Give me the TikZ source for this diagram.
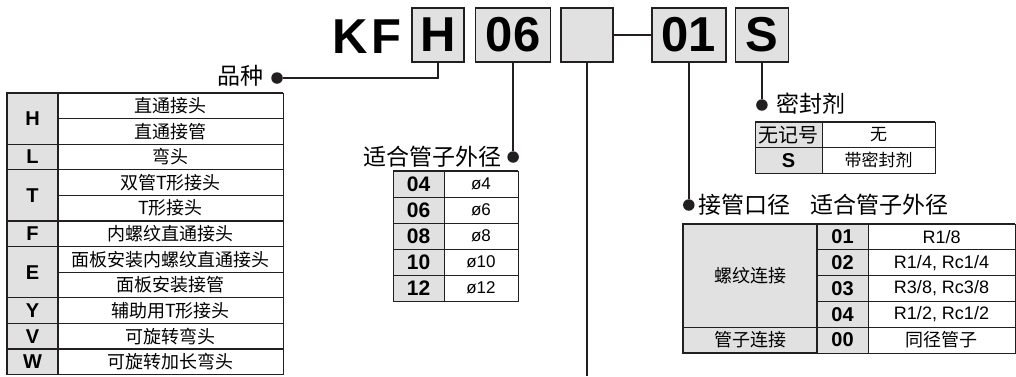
\documentclass[tikz,border=0pt]{standalone}
\usepackage{fontspec}
\setmainfont{Liberation Sans}
\newfontfamily\cjk{Noto Sans CJK SC}
\usetikzlibrary{positioning}
\definecolor{keygray}{HTML}{E1E1E1}
\definecolor{rulegray}{HTML}{231F20}

\begin{document}
\begin{tikzpicture}[x=1pt, y=-1pt, draw=rulegray,
  codebox/.style={draw, fill=keygray, line width=1.6pt, minimum height=54pt, inner sep=0pt, font=\fontsize{49}{49}\selectfont\bfseries},
  bullet/.style={circle, fill=rulegray, inner sep=0pt, minimum size=11.5pt},
  title/.style={inner sep=0pt, font=\fontsize{23}{23}\selectfont\cjk},
  key/.style={inner sep=0pt, font=\fontsize{20}{20}\selectfont\bfseries},
  cell/.style={inner sep=0pt, font=\fontsize{18}{18}\selectfont\cjk},
  val/.style={inner sep=0pt, font=\fontsize{17}{17}\selectfont},
  lead/.style={line width=1.5pt}]
\useasboundingbox (0,0) rectangle (1016,376);

 %model code
  \node[inner sep=0pt, font=\fontsize{49}{49}\selectfont\bfseries] (kf) at (367,37) {K\kern4pt F};
  \node[codebox, minimum width=52pt] (hbox) at (438,35) {H};
  \node[codebox, minimum width=75pt, right=10pt of hbox] (nbox) {06};
  \node[codebox, minimum width=52pt, right=9pt of nbox] (xbox) {};
  \node[codebox, minimum width=74pt, right=37pt of xbox] (pbox) {01};
  \node[codebox, minimum width=53pt, right=8pt of pbox] (sbox) {S};
  \draw[lead] (xbox.east) -- (pbox.west);

 %table 1: kind
  \def\rh{25.6}
  \def\ty{93}
  \node[title, anchor=east] (kindlbl) at (264,76) {品种};
  \node[bullet] (kinddot) at (277,78) {};
  \draw[lead] (hbox.south) |- (kinddot);
    \foreach \i/\txt in {0/直通接头, 1/直通接管, 2/弯头, 3/双管T形接头, 4/T形接头, 5/内螺纹直通接头,
                         6/面板安装内螺纹直通接头, 7/面板安装接管, 8/辅助用T形接头, 9/可旋转弯头, 10/可旋转加长弯头} {
         \draw[line width=0.8pt] (58,\ty+\i*\rh) rectangle (283,\ty+\i*\rh+\rh);
         \node[cell] (kind\i) at (170.5,\ty+\i*\rh+\rh/2) {\txt};
    }
    \foreach \a/\n/\ltr in {0/2/H, 2/1/L, 3/2/T, 5/1/F, 6/2/E, 8/1/Y, 9/1/V, 10/1/W} {
         \draw[line width=1.2pt, fill=keygray] (7,\ty+\a*\rh) rectangle (58,\ty+\a*\rh+\n*\rh);
         \draw[line width=1.2pt] (58,\ty+\a*\rh) -- (283,\ty+\a*\rh);
         \node[key] (type\ltr) at (32.5,\ty+\a*\rh+\n*\rh/2) {\ltr};
    }
  \draw[line width=2pt] (7,\ty) -- (283,\ty);

 %table 2: tube o.d.
  \def\rh{26}
  \def\ty{171}
  \node[bullet] (oddot) at (nbox.center |- 0,157) {};
  \node[title, anchor=east] (odlbl) at (502,157) {适合管子外径};
  \draw[lead] (nbox.south) -- (oddot);
    \foreach \i/\code/\od in {0/04/4, 1/06/6, 2/08/8, 3/10/10, 4/12/12} {
         \draw[line width=0.9pt, fill=keygray] (393,\ty+\i*\rh) rectangle (444,\ty+\i*\rh+\rh);
         \draw[line width=0.9pt] (444,\ty+\i*\rh) rectangle (518,\ty+\i*\rh+\rh);
         \node[key, font=\fontsize{21}{21}\selectfont\bfseries] (od\i) at (418.5,\ty+\i*\rh+\rh/2) {\code};
         \node[val] (odv\i) at (481,\ty+\i*\rh+\rh/2) {ø\od};
    }
  \draw[line width=2pt] (393,\ty) -- (518,\ty);

 %blank field
  \coordinate (tailend) at (xbox.center |- 0,376);
  \draw[lead] (xbox.south) -- (tailend);

 %table 3: seal
  \def\rh{25.5}
  \def\ty{122}
  \node[bullet] (sealdot) at (sbox.center |- 0,105) {};
  \node[title, anchor=west] (seallbl) at (776,104) {密封剂};
  \draw[lead] (sbox.south) -- (sealdot);
    \foreach \i in {0,1} {
         \draw[line width=0.9pt, fill=keygray] (755,\ty+\i*\rh) rectangle (822,\ty+\i*\rh+\rh);
         \draw[line width=0.9pt] (822,\ty+\i*\rh) rectangle (935,\ty+\i*\rh+\rh);
    }
  \node[inner sep=0pt, font=\fontsize{20}{20}\selectfont\cjk] (seal0) at (788.5,\ty+\rh/2) {无记号};
  \node[cell, font=\fontsize{17}{17}\selectfont\cjk] (sealv0) at (878.5,\ty+\rh/2) {无};
  \node[key] (seal1) at (788.5,\ty+1.5*\rh) {S};
  \node[cell, font=\fontsize{17}{17}\selectfont\cjk] (sealv1) at (878.5,\ty+1.5*\rh) {带密封剂};
  \draw[line width=2pt] (755,\ty) -- (935,\ty);

 %table 4: port size
  \def\rh{25.8}
  \def\ty{224}
  \node[bullet] (portdot) at (pbox.center |- 0,205) {};
  \node[title, anchor=west] (portlbl) at (698,205) {接管口径\hspace{0.9em}适合管子外径};
  \draw[lead] (pbox.south) -- (portdot);
  \draw[line width=1.2pt, fill=keygray] (683,\ty) rectangle (817,\ty+4*\rh);
  \draw[line width=1.2pt, fill=keygray] (683,\ty+4*\rh) rectangle (817,\ty+5*\rh);
  \node[cell] (thread) at (750,\ty+2*\rh) {螺纹连接};
  \node[cell] (tube) at (750,\ty+4.5*\rh) {管子连接};
    \foreach \i/\code/\txt in {0/01/{R1/8}, 1/02/{R1/4, Rc1/4}, 2/03/{R3/8, Rc3/8}, 3/04/{R1/2, Rc1/2}, 4/00/{\cjk 同径管子}} {
         \draw[line width=0.9pt, fill=keygray] (817,\ty+\i*\rh) rectangle (868,\ty+\i*\rh+\rh);
         \draw[line width=0.9pt] (868,\ty+\i*\rh) rectangle (1015,\ty+\i*\rh+\rh);
         \node[key, font=\fontsize{20}{20}\selectfont\bfseries] (port\i) at (842.5,\ty+\i*\rh+\rh/2) {\code};
         \node[val, font=\fontsize{18}{18}\selectfont] (portv\i) at (941.5,\ty+\i*\rh+\rh/2) {\txt};
    }
  \draw[line width=1.2pt] (683,\ty+4*\rh) -- (1015,\ty+4*\rh);
  \draw[line width=2pt] (683,\ty) -- (1015,\ty);
\end{tikzpicture}
\end{document}
